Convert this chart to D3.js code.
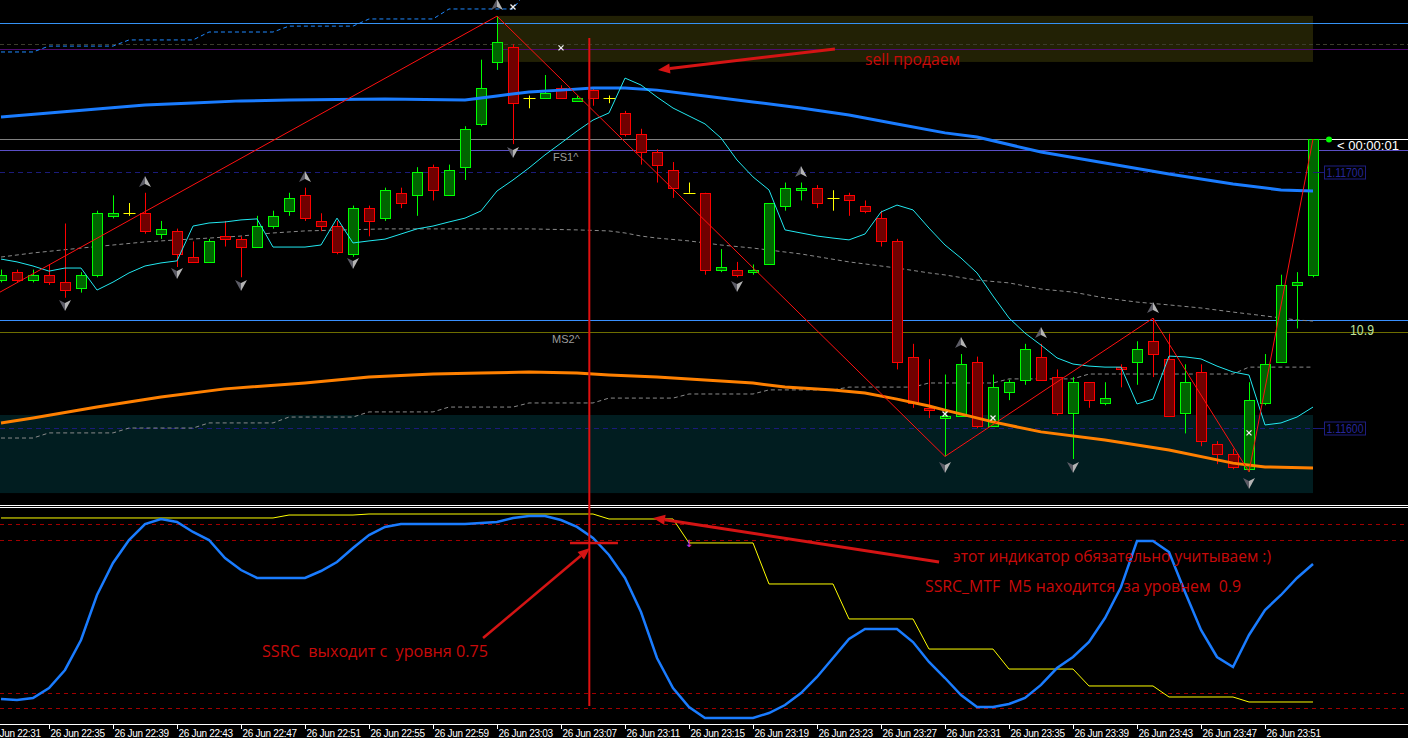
<!DOCTYPE html>
<html>
<head>
<meta charset="utf-8">
<script src="https://cdn.jsdelivr.net/npm/d3@7"></script>
<style>
body { margin: 0; background: #000; }
svg { display: block; }
</style>
</head>
<body>
<script>
// ---- data (EURUSD M1, 26 Jun 22:32 .. 23:54) ----
var opens = [1.11658,1.11661,1.11658,1.11660,1.11657,1.11655,1.11660,1.11683,1.11684,1.11684,
1.11676,1.11677,1.11667,1.11665,1.11675,1.11674,1.11671,1.11679,1.11685,1.11691,
1.11681,1.11679,1.11668,1.11686,1.11682,1.11692,1.11691,1.11702,1.11691,1.11702,
1.11719,1.11743,1.11749,1.11729,1.11729,1.11733,1.11728,1.11732,1.11729,1.11723,
1.11715,1.11708,1.11701,1.11692,1.11692,1.11662,1.11662,1.11661,1.11664,1.11687,
1.11693,1.11694,1.11690,1.11691,1.11687,1.11682,1.11673,1.11628,1.11608,1.11604,
1.11605,1.11626,1.11601,1.11614,1.11619,1.11628,1.11620,1.11606,1.11618,1.11610,
1.11624,1.11626,1.11634,1.11627,1.11606,1.11622,1.11594,1.11590,1.11584,1.11610,
1.11626,1.11656,1.11660]
var highs = [1.11662,1.11662,1.11662,1.11664,1.11680,1.11661,1.11685,1.11691,1.11688,1.11692,
1.11681,1.11678,1.11673,1.11674,1.11681,1.11675,1.11683,1.11685,1.11692,1.11694,
1.11684,1.11681,1.11687,1.11687,1.11694,1.11694,1.11702,1.11703,1.11703,1.11718,
1.11744,1.11761,1.11750,1.11730,1.11738,1.11734,1.11730,1.11733,1.11730,1.11724,
1.11717,1.11709,1.11704,1.11696,1.11692,1.11670,1.11665,1.11664,1.11688,1.11696,
1.11696,1.11695,1.11693,1.11692,1.11689,1.11685,1.11674,1.11633,1.11627,1.11621,
1.11629,1.11628,1.11621,1.11619,1.11633,1.11633,1.11623,1.11620,1.11618,1.11618,
1.11625,1.11634,1.11643,1.11637,1.11625,1.11625,1.11595,1.11592,1.11618,1.11629,
1.11660,1.11661,1.11713]
var lows = [1.11657,1.11657,1.11657,1.11656,1.11651,1.11653,1.11659,1.11682,1.11683,1.11676,
1.11674,1.11663,1.11665,1.11665,1.11671,1.11659,1.11671,1.11678,1.11683,1.11681,
1.11677,1.11668,1.11667,1.11675,1.11681,1.11686,1.11683,1.11689,1.11691,1.11697,
1.11718,1.11740,1.11711,1.11725,1.11729,1.11729,1.11728,1.11726,1.11727,1.11714,
1.11703,1.11696,1.11690,1.11692,1.11660,1.11661,1.11659,1.11660,1.11664,1.11685,
1.11689,1.11686,1.11685,1.11683,1.11684,1.11671,1.11623,1.11608,1.11604,1.11589,
1.11605,1.11600,1.11601,1.11611,1.11617,1.11619,1.11605,1.11588,1.11608,1.11609,
1.11616,1.11617,1.11620,1.11605,1.11598,1.11593,1.11586,1.11584,1.11583,1.11609,
1.11626,1.11639,1.11659]
var closes = [1.11660,1.11658,1.11660,1.11657,1.11654,1.11660,1.11684,1.11684,1.11684,1.11677,
1.11678,1.11668,1.11665,1.11673,1.11674,1.11671,1.11679,1.11683,1.11690,1.11682,
1.11679,1.11669,1.11686,1.11681,1.11693,1.11688,1.11700,1.11693,1.11701,1.11717,
1.11733,1.11751,1.11727,1.11729,1.11731,1.11729,1.11729,1.11729,1.11729,1.11715,
1.11708,1.11703,1.11694,1.11692,1.11662,1.11663,1.11660,1.11662,1.11688,1.11694,
1.11694,1.11688,1.11690,1.11689,1.11685,1.11673,1.11626,1.11610,1.11607,1.11605,
1.11625,1.11601,1.11616,1.11618,1.11631,1.11619,1.11606,1.11618,1.11611,1.11612,
1.11623,1.11631,1.11629,1.11605,1.11618,1.11595,1.11590,1.11585,1.11611,1.11625,
1.11656,1.11657,1.11713]

// fast envelope line (cyan), one value per bar
var cyanLine = [1.116661,1.116650,1.116634,1.116614,1.116626,1.116626,1.116540,1.116571,1.116607,1.116634,
1.116646,1.116654,1.116790,1.116802,1.116806,1.116814,1.116818,1.116708,1.116708,1.116708,
1.116716,1.116821,1.116724,1.116732,1.116739,1.116759,1.116779,1.116790,1.116806,1.116821,
1.116849,1.116927,1.116970,1.117017,1.117068,1.117114,1.117161,1.117204,1.117232,1.117368,
1.117341,1.117294,1.117251,1.117220,1.117189,1.117134,1.117048,1.116982,1.116931,1.116775,
1.116763,1.116751,1.116743,1.116736,1.116759,1.116845,1.116872,1.116853,1.116782,1.116716,
1.116665,1.116607,1.116517,1.116431,1.116372,1.116325,1.116275,1.116251,1.116243,1.116239,
1.116239,1.116095,1.116114,1.116282,1.116279,1.116271,1.116243,1.116220,1.116208,1.116013,
1.116021,1.116044,1.116083]

// moving averages read at [bar, price]
var maBlue = [[0,1.117216],[3,1.117232],[6,1.117247],[9,1.117263],[12,1.117271],[15,1.117279],[18,1.117282],
[24,1.117286],[29,1.117282],[31,1.117298],[33,1.117314],[35,1.117321],[37,1.117329],[39,1.117329],[41,1.117321],
[44,1.117298],[47,1.117275],[50,1.117251],[53,1.117224],[56,1.117189],[59,1.117154],[61,1.117138],[65,1.117079],
[69,1.117036],[73,1.116993],[77,1.116954],[80,1.116931],[82,1.116927]]
var maOrange = [[0,1.116021],[2,1.116040],[6,1.116083],[10,1.116122],[14,1.116154],[19,1.116177],[23,1.116200],
[27,1.116212],[30,1.116216],[33,1.116220],[36,1.116216],[38,1.116208],[41,1.116200],[44,1.116189],[47,1.116177],
[49,1.116161],[52,1.116150],[54,1.116138],[56,1.116114],[58,1.116087],[59,1.116071],[62,1.116025],[65,1.115986],
[69,1.115954],[73,1.115915],[77,1.115864],[79,1.115849],[82,1.115845]]
var maGray = [[0,1.116669],[2,1.116685],[5,1.116704],[7,1.116716],[9,1.116728],[11,1.116736],[13,1.116743],
[15,1.116751],[17,1.116763],[19,1.116771],[24,1.116779],[33,1.116779],[36,1.116775],[38,1.116771],[39,1.116763],
[40,1.116751],[41,1.116743],[43,1.116732],[45,1.116716],[47,1.116704],[50,1.116681],[53,1.116650],[56,1.116626],
[58,1.116607],[59,1.116599],[61,1.116579],[63,1.116568],[65,1.116544],[67,1.116532],[69,1.116509],[71,1.116493],
[73,1.116482],[75,1.116470],[77,1.116454],[79,1.116439],[81,1.116423],[82,1.116419]]

// M5 stepped envelopes, one value per 5-minute block from 22:30
var m5Upper = [1.117470,1.117493,1.117517,1.117548,1.117571,1.117599,1.117638,1.117720,null,null,null,null,null,null,null,null,null]
var m5Lower = [1.115962,1.115982,1.116001,1.116021,1.116044,1.116064,1.116083,1.116099,1.116118,1.116134,1.116150,1.116161,1.116177,1.116193,1.116212,1.116212,1.116239]

var zigzag = [[-3,1.11643],[31,1.11761],[59,1.11589],[72,1.11643],[78,1.11583],[82,1.11713]]
var fractalUp = [[9,1.116962],[19,1.116982],[31,1.117654],[50,1.117001],[60,1.116333],[65,1.116372],[72,1.116470]]
var fractalDown = [[4,1.116482],[11,1.116607],[15,1.116560],[22,1.116646],[32,1.117079],[46,1.116556],[59,1.115849],[67,1.115849],[78,1.115786]]
var crossMarks = [[32,1.117646],[35,1.117486],[59,1.116056],[62,1.116040],[78,1.115982]]

var levels = [1.117583, 1.117501, 1.117482, 1.117087, 1.117000, 1.116423, 1.116376, 1.116000]
var sellZone = [31, 82, 1.117611, 1.117431]
var buyZone = [-10, 82, 1.116052, 1.115747]

// SSRC oscillator (sub window)
var ssrc = [-0.814,-0.824,-0.804,-0.706,-0.529,-0.235,0.206,0.520,0.745,0.902,
0.951,0.922,0.824,0.745,0.569,0.451,0.373,0.373,0.373,0.373,
0.441,0.529,0.667,0.794,0.873,0.902,0.902,0.902,0.902,0.902,
0.912,0.922,0.961,0.980,0.980,0.941,0.873,0.765,0.598,0.373,
0.039,-0.412,-0.706,-0.892,-1.000,-1.000,-1.000,-1.000,-0.951,-0.873,
-0.755,-0.598,-0.412,-0.225,-0.127,-0.127,-0.127,-0.255,-0.451,-0.608,
-0.775,-0.892,-0.892,-0.863,-0.804,-0.676,-0.510,-0.402,-0.255,-0.020,
0.284,0.735,0.735,0.627,0.235,-0.137,-0.402,-0.500,-0.186,0.059,
0.206,0.373,0.510]
var ssrcMtf = [0.961,0.961,0.961,0.961,0.990,1.000,1.000,1.000,0.951,0.716,0.314,-0.029,-0.324,-0.520,-0.686,-0.794,-0.843]
var subLevels = [0.9, 0.75, -0.75, -0.9]

var tickLabels = ["22:31","22:35","22:39","22:43","22:47","22:51","22:55","22:59","23:03","23:07","23:11",
"23:15","23:19","23:23","23:27","23:31","23:35","23:39","23:43","23:47","23:51"]

// ---- setup ----
var W = 1408, H = 738
var parseT = d3.timeParse("%Y-%m-%d %H:%M")
var t0 = parseT("2019-06-26 22:32"), t1 = parseT("2019-06-26 23:54")
var m5Start = parseT("2019-06-26 22:30")
var barTimes = d3.timeMinute.range(t0, d3.timeMinute.offset(t1, 1))

var x = d3.scaleTime().domain([t0, t1]).range([1, 1313])
var bx = function(i) { return x(new Date(+t0 + i * 60000)) }
var y = d3.scaleLinear().domain([1.116, 1.117]).range([428.3, 172.3])
var ys = d3.scaleLinear().domain([-1, 1]).range([718, 514])

function block(i) { return Math.floor((barTimes[i] - m5Start) / 300000) }

var svg = d3.select("body").append("svg")
    .attr("width", W).attr("height", H)
    .style("background", "#000")

var defs = svg.append("defs")
defs.append("clipPath").attr("id", "cmain").append("rect").attr("x", 0).attr("y", 0).attr("width", W).attr("height", 504)
defs.append("clipPath").attr("id", "csub").append("rect").attr("x", 0).attr("y", 509).attr("width", W).attr("height", 215)

var main = svg.append("g").attr("clip-path", "url(#cmain)")

// zones
function zone(z, color) {
    main.append("rect")
        .attr("x", bx(z[0])).attr("y", y(z[2]))
        .attr("width", bx(z[1]) - bx(z[0])).attr("height", y(z[3]) - y(z[2]))
        .attr("fill", color)
}
zone(sellZone, "#222105")
zone(buyZone, "#011d20")

// horizontal levels
var levelStyle = [
    { c: "#3592f5", d: null }, { c: "#3c3c2c", d: "4,3" }, { c: "#4e0c6e", d: null },
    { c: "#5b4fc6", d: null }, { c: "#1b1b7a", d: "5,4", end: 1313 }, { c: "#3990ff", d: null },
    { c: "#6e6e00", d: null }, { c: "#1b1b7a", d: "5,4", end: 1313 }
]
levels.forEach(function(p, i) {
    var s = levelStyle[i]
    var yy = Math.round(y(p)) + 0.5
    main.append("line")
        .attr("x1", 0).attr("x2", s.end || W).attr("y1", yy).attr("y2", yy)
        .attr("stroke", s.c).attr("stroke-width", 1)
        .attr("stroke-dasharray", s.d)
})
// bid line
var lastClose = closes[closes.length - 1]
var bidY = Math.round(y(lastClose)) + 0.5
main.append("line").attr("x1", 0).attr("x2", 1329).attr("y1", bidY).attr("y2", bidY).attr("stroke", "#808080")
main.append("line").attr("x1", 1329).attr("x2", W).attr("y1", bidY).attr("y2", bidY).attr("stroke", "#ffffff")

// stepped M5 envelopes
var barIdx = d3.range(barTimes.length)
var stepLine = d3.line()
    .defined(function(d) { return d[1] != null })
    .x(function(d) { return bx(d[0]) })
    .y(function(d) { return y(d[1]) })
main.append("path")
    .datum(barIdx.map(function(i) { return [i, m5Upper[block(i)]] }))
    .attr("d", stepLine).attr("fill", "none")
    .attr("stroke", "#1e88ff").attr("stroke-width", 1).attr("stroke-dasharray", "4,3")
main.append("path")
    .datum(barIdx.map(function(i) { return [i, m5Lower[block(i)]] }))
    .attr("d", stepLine).attr("fill", "none")
    .attr("stroke", "#8a8a8a").attr("stroke-width", 1).attr("stroke-dasharray", "4,3")

var pline = d3.line().x(function(d) { return bx(d[0]) }).y(function(d) { return y(d[1]) })
main.append("path").datum(maGray).attr("d", pline).attr("fill", "none")
    .attr("stroke", "#8a8a8a").attr("stroke-width", 1).attr("stroke-dasharray", "4,3")

// candles
var candles = main.append("g")
barIdx.forEach(function(i) {
    var cx = Math.round(bx(i)) + 0.5
    var o = opens[i], c = closes[i]
    if (o === c) {
        candles.append("line").attr("x1", cx).attr("x2", cx).attr("y1", y(highs[i])).attr("y2", y(lows[i]))
            .attr("stroke", "#ffff00")
        var yo = Math.round(y(o)) + 0.5
        candles.append("line").attr("x1", cx - 6).attr("x2", cx + 6).attr("y1", yo).attr("y2", yo)
            .attr("stroke", "#ffff00")
        return
    }
    var up = c > o
    var edge = up ? "#00ff00" : "#ff0000"
    var fill = up ? "#006400" : "#700000"
    candles.append("line").attr("x1", cx).attr("x2", cx).attr("y1", y(highs[i])).attr("y2", y(lows[i]))
        .attr("stroke", edge)
    var top = Math.round(y(Math.max(o, c))), bot = Math.round(y(Math.min(o, c)))
    candles.append("rect")
        .attr("x", cx - 5).attr("y", top + 0.5)
        .attr("width", 10).attr("height", Math.max(2, bot - top))
        .attr("fill", fill).attr("stroke", edge).attr("stroke-width", 1)
})

// indicator lines over candles
main.append("path").datum(maBlue).attr("d", pline).attr("fill", "none")
    .attr("stroke", "#1a7cff").attr("stroke-width", 3)
main.append("path").datum(maOrange).attr("d", pline).attr("fill", "none")
    .attr("stroke", "#ff8000").attr("stroke-width", 3)
main.append("path").datum(cyanLine.map(function(v, i) { return [i, v] })).attr("d", pline).attr("fill", "none")
    .attr("stroke", "#22e8f0").attr("stroke-width", 1)
main.append("path").datum(zigzag).attr("d", pline).attr("fill", "none")
    .attr("stroke", "#ff1010").attr("stroke-width", 1)

// fractal arrows
function fractal(list, dir) {
    list.forEach(function(d) {
        var g = main.append("g").attr("transform", "translate(" + bx(d[0]) + "," + y(d[1]) + ") scale(1," + dir + ")")
        g.append("path").attr("d", "M0,-6 L6,5 L0,2 Z").attr("fill", "#b4b4b4")
        g.append("path").attr("d", "M0,-6 L-6,5 L0,2 Z").attr("fill", "#5c5c66")
    })
}
fractal(fractalUp, 1)
fractal(fractalDown, -1)

crossMarks.forEach(function(d) {
    var cx = bx(d[0]), cy = y(d[1])
    main.append("path")
        .attr("d", "M" + (cx - 2.5) + "," + (cy - 2.5) + "L" + (cx + 2.5) + "," + (cy + 2.5) +
                   "M" + (cx + 2.5) + "," + (cy - 2.5) + "L" + (cx - 2.5) + "," + (cy + 2.5))
        .attr("stroke", "#f0f0f0").attr("stroke-width", 1.3)
})

main.append("text").attr("x", bx(34.5)).attr("y", y(1.11706)).attr("dy", "0.35em")
    .attr("fill", "#9c9c9c").style("font", "11px 'Liberation Sans'").text("FS1^")
main.append("text").attr("x", bx(34.44)).attr("y", y(1.116349)).attr("dy", "0.35em")
    .attr("fill", "#9c9c9c").style("font", "11px 'Liberation Sans'").text("MS2^")

// right side labels
svg.append("circle").attr("cx", 1329).attr("cy", bidY).attr("r", 3).attr("fill", "#00ff00")
svg.append("text").attr("x", 1337).attr("y", bidY + 10.5).attr("fill", "#ffffff")
    .style("font", "12.5px 'Liberation Sans'").style("white-space", "pre")
    .attr("textLength", 62).attr("lengthAdjust", "spacingAndGlyphs").text("< 00:00:01")
;[1.117, 1.116].forEach(function(p) {
    var yy = Math.round(y(p)) + 0.5
    svg.append("line").attr("x1", 1313).attr("x2", 1324).attr("y1", yy).attr("y2", yy).attr("stroke", "#1b1b7a")
    svg.append("rect").attr("x", 1324.5).attr("y", yy - 6.5).attr("width", 41).attr("height", 13)
        .attr("fill", "#000").attr("stroke", "#1e1e80")
    svg.append("text").attr("x", 1345).attr("y", yy + 4.5).attr("text-anchor", "middle")
        .attr("fill", "#26269a").style("font", "12px 'Liberation Sans'")
        .attr("textLength", 37).attr("lengthAdjust", "spacingAndGlyphs").text(d3.format(".5f")(p))
})
svg.append("text").attr("x", 1350).attr("y", y(1.116376) + 3).attr("fill", "#bfe39a")
    .style("font", "15px 'Liberation Sans'")
    .attr("textLength", 24).attr("lengthAdjust", "spacingAndGlyphs").text("10.9")

// ---- sub window ----
svg.append("line").attr("x1", 0).attr("x2", W).attr("y1", 505.5).attr("y2", 505.5).attr("stroke", "#ffffff")
svg.append("line").attr("x1", 0).attr("x2", W).attr("y1", 507.5).attr("y2", 507.5).attr("stroke", "#ffffff")
var sub = svg.append("g").attr("clip-path", "url(#csub)")
subLevels.forEach(function(v) {
    var yy = Math.round(ys(v)) + 0.5
    sub.append("line").attr("x1", 0).attr("x2", W).attr("y1", yy).attr("y2", yy)
        .attr("stroke", "#a00000").attr("stroke-dasharray", "4,4")
})
var sline = d3.line().x(function(d) { return bx(d[0]) }).y(function(d) { return ys(d[1]) })
sub.append("path").datum(barIdx.map(function(i) { return [i, ssrcMtf[block(i)]] }))
    .attr("d", sline).attr("fill", "none").attr("stroke", "#ffff00").attr("stroke-width", 1)
sub.append("path").datum(ssrc.map(function(v, i) { return [i, v] }))
    .attr("d", sline).attr("fill", "none").attr("stroke", "#1a7cff").attr("stroke-width", 2.5)
sub.append("text").attr("x", bx(43)).attr("y", ys(ssrcMtf[block(43)]) + 1).attr("text-anchor", "middle")
    .attr("dy", "0.35em").attr("fill", "#d030d0").style("font", "bold 10px 'DejaVu Sans'").text("↓")

// time axis
var tickTimes = tickLabels.map(function(s) { return parseT("2019-06-26 " + s) })
var axis = svg.append("g").attr("transform", "translate(0,724)")
    .call(d3.axisBottom(x).tickValues(tickTimes).tickFormat(d3.timeFormat("%d %b %H:%M")).tickSize(5).tickSizeOuter(0))
axis.select(".domain").remove()
axis.append("line").attr("x1", 0).attr("x2", W).attr("y1", 0.5).attr("y2", 0.5).attr("stroke", "#ffffff")
axis.selectAll(".tick line").attr("stroke", "#ffffff")
axis.selectAll(".tick text")
    .attr("fill", "#ffffff").attr("text-anchor", "start").attr("x", 1).attr("y", 6)
    .style("font", "10px 'Liberation Sans'").attr("letter-spacing", "-0.3")

// ---- hand drawn annotations ----
var red = "#d41414"
function arrow(x1, y1, x2, y2, w) {
    var a = Math.atan2(y2 - y1, x2 - x1), L = 12, hw = 5
    var bxx = x2 - L * Math.cos(a), byy = y2 - L * Math.sin(a)
    svg.append("line").attr("x1", x1).attr("y1", y1).attr("x2", bxx).attr("y2", byy)
        .attr("stroke", red).attr("stroke-width", w)
    svg.append("path")
        .attr("d", "M" + x2 + "," + y2 + "L" + (bxx + hw * Math.sin(a)) + "," + (byy - hw * Math.cos(a)) +
                   "L" + (bxx - hw * Math.sin(a)) + "," + (byy + hw * Math.cos(a)) + "Z")
        .attr("fill", red)
}
arrow(bx(52.12), y(1.117482), bx(41.06), y(1.1174), 3)
arrow(bx(58.63), ys(0.529), bx(40.75), ys(0.961), 3)
arrow(bx(30.13), ys(-0.216), bx(36.81), ys(0.667), 2.5)
svg.append("line").attr("x1", bx(35.56)).attr("x2", bx(38.56)).attr("y1", ys(0.716)).attr("y2", ys(0.716))
    .attr("stroke", red).attr("stroke-width", 2.5)
svg.append("line").attr("x1", bx(36.77)).attr("x2", bx(36.77)).attr("y1", y(1.117525)).attr("y2", ys(-0.882))
    .attr("stroke", "#e01010").attr("stroke-width", 2)

var notes = [
    { t: "sell продаем", k: 54.0, yy: y(1.117439), w: 95 },
    { t: "этот индикатор обязательно учитываем :)", k: 59.5, yy: ys(0.588), w: 318 },
    { t: "SSRC_MTF  M5 находится  за уровнем  0.9", k: 57.75, yy: ys(0.294), w: 316 },
    { t: "SSRC  выходит с  уровня 0.75", k: 16.31, yy: ys(-0.343), w: 226 }
]
notes.forEach(function(n) {
    svg.append("text").attr("x", bx(n.k)).attr("y", n.yy).attr("dy", "0.36em")
        .attr("fill", "#c80a0a").style("font", "15.5px 'Open Sans'").style("white-space", "pre")
        .attr("textLength", n.w).attr("lengthAdjust", "spacingAndGlyphs")
        .text(n.t)
})
</script>
</body>
</html>
